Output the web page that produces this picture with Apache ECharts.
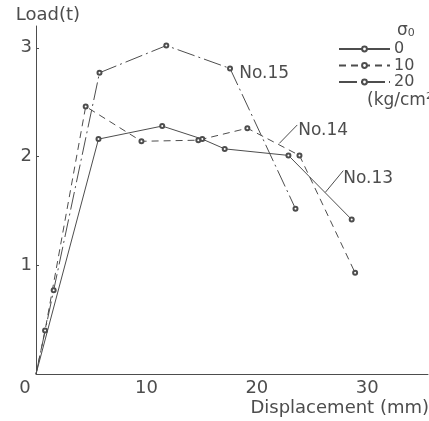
<!DOCTYPE html>
<html lang="en">
<head>
    <meta charset="UTF-8">
    <title>Load - Displacement</title>
    <script src="https://cdn.jsdelivr.net/npm/echarts@6/dist/echarts.min.js"></script>
    <style>
        body { margin: 0; background: #fff; }
    </style>
</head>
<body>
<div id="main" style="width: 429px; height: 421px;"></div>
<script type="text/javascript">
    // values: [displacement (mm), load (t)]
    var sigmaNames = ['0', '10', '20'];
    var no13 = [[0, 0], [5.66, 2.16], [11.43, 2.28], [15.06, 2.16], [17.09, 2.07], [22.86, 2.01], [28.59, 1.42]];
    var no14 = [[0, 0], [0.82, 0.40], [4.5, 2.46], [9.55, 2.14], [14.7, 2.15], [19.14, 2.26], [23.86, 2.01], [28.9, 0.93]];
    var no15 = [[0, 0], [1.6, 0.77], [5.75, 2.77], [11.8, 3.02], [17.57, 2.81], [23.5, 1.52]];
    var xTicks = [0, 10, 20, 30];
    var yTicks = [1, 2, 3];
    // specimen labels: text, text anchor, leader from, leader to (data coords)
    var notes = [
        {text: 'No.15', at: [18.4, 2.76]},
        {text: 'No.14', at: [23.75, 2.24], from: [22.03, 2.12], to: [23.66, 2.29]},
        {text: 'No.13', at: [27.83, 1.80], from: [26.2, 1.67], to: [27.83, 1.87]}
    ];

    var ink = '#4d4d4d';
    var font = 'DejaVu Sans';

    function pts(arr) {
        return arr.map(function (p, i) {
            return i === 0 ? {value: p, symbol: 'none'} : {value: p};
        });
    }

    function line(name, arr, type) {
        return {
            name: name,
            type: 'line',
            data: pts(arr),
            symbol: 'emptyCircle',
            symbolSize: 4,
            showAllSymbol: true,
            silent: true,
            animation: false,
            lineStyle: {color: ink, width: 1, type: type},
            itemStyle: {color: ink, borderColor: ink, borderWidth: 1}
        };
    }

    var C = echarts.init(document.getElementById('main'));
    C.setOption({
        backgroundColor: '#fff',
        animation: false,
        textStyle: {fontFamily: font, color: ink},
        grid: {left: 36, right: 1, top: 26, bottom: 47},
        legend: {
            orient: 'vertical',
            left: 338,
            top: 41,
            padding: 0,
            itemWidth: 51,
            itemHeight: 6,
            itemGap: 0.5,
            selectedMode: false,
            data: sigmaNames,
            textStyle: {fontFamily: font, fontSize: 16, lineHeight: 16, color: ink, padding: [0, 0, 0, -1]}
        },
        xAxis: {
            type: 'value',
            min: 0,
            max: 35.5,
            interval: 10,
            splitLine: {show: false},
            axisLine: {lineStyle: {color: ink, width: 1}},
            axisTick: {show: false},
            axisLabel: {
                customValues: xTicks,
                margin: 5,
                fontFamily: font,
                fontSize: 18,
                color: ink,
                formatter: function (v) {
                    return v === 0 ? '{z|0}' : String(v);
                },
                rich: {z: {fontFamily: font, fontSize: 18, color: ink, padding: [0, 22, 0, 0]}}
            }
        },
        yAxis: {
            type: 'value',
            min: 0,
            max: 3.2,
            interval: 1,
            splitLine: {show: false},
            axisLine: {lineStyle: {color: ink, width: 1}},
            axisTick: {customValues: yTicks, inside: true, length: 3, lineStyle: {color: ink}},
            axisLabel: {customValues: yTicks, margin: 4, fontFamily: font, fontSize: 18, color: ink},
            name: 'Load(t)',
            nameLocation: 'end',
            nameGap: 2,
            nameTextStyle: {fontFamily: font, fontSize: 18, color: ink, align: 'center', padding: [0, 0, 0, 24]}
        },
        series: [
            line(sigmaNames[0], no13, 'solid'),
            line(sigmaNames[1], no14, [7, 5]),
            line(sigmaNames[2], no15, [18, 4, 2, 4])
        ]
    });

    var g = [
        {type: 'text', left: 397, top: 22, style: {text: 'σ{s|0}', rich: {s: {fontSize: 11, fontFamily: font, fill: ink, verticalAlign: 'bottom'}}, font: '17px "DejaVu Sans"', fill: ink}},
        {type: 'text', left: 367, top: 92, style: {text: '(kg/cm²)', font: '17px "DejaVu Sans"', fill: ink}},
        {type: 'text', right: 0, top: 399, style: {text: 'Displacement (mm)', font: '18px "DejaVu Sans"', fill: ink}}
    ];
    notes.forEach(function (n) {
        var p = C.convertToPixel({gridIndex: 0}, n.at);
        g.push({type: 'text', x: p[0], y: p[1], style: {text: n.text, font: '17px "DejaVu Sans"', fill: ink, verticalAlign: 'middle'}});
        if (n.from) {
            var a = C.convertToPixel({gridIndex: 0}, n.from);
            var b = C.convertToPixel({gridIndex: 0}, n.to);
            g.push({type: 'line', shape: {x1: a[0], y1: a[1], x2: b[0], y2: b[1]}, style: {stroke: ink, lineWidth: 1}});
        }
    });
    C.setOption({graphic: g});
</script>
</body>
</html>
